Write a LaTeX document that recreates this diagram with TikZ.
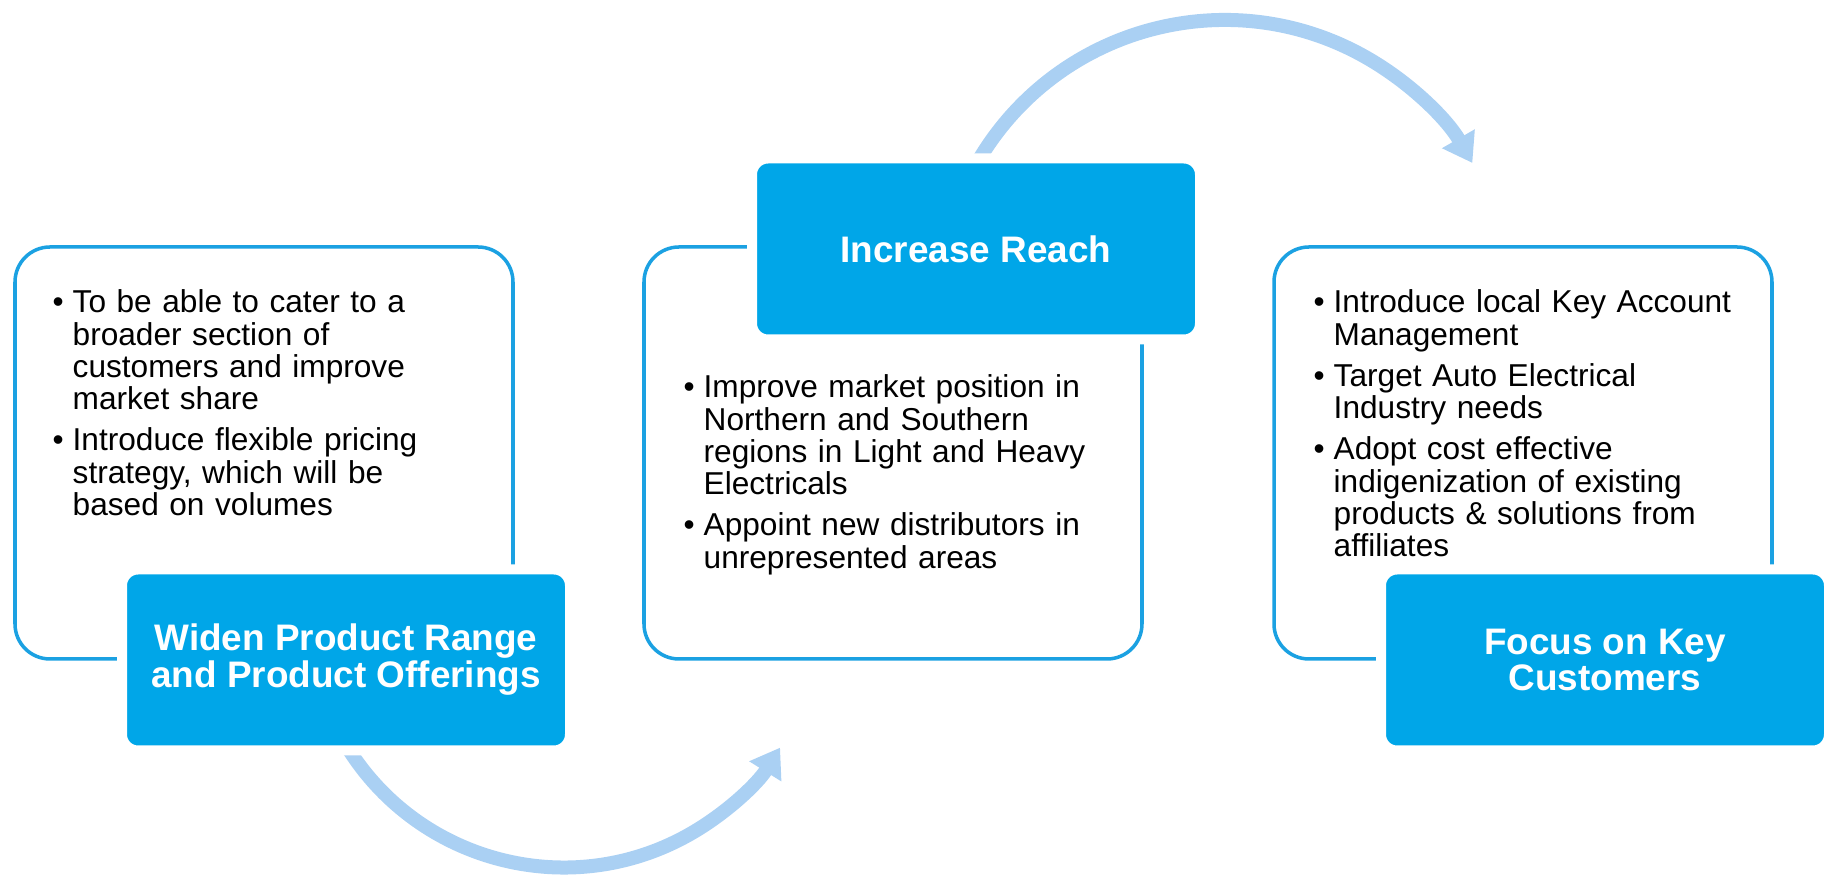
\documentclass[tikz,border=0pt]{standalone}
\usepackage{fontspec}
\setmainfont{Liberation Sans}
\usetikzlibrary{arrows.meta}
\definecolor{boxblue}{RGB}{0,166,232}
\definecolor{lineblue}{RGB}{27,161,226}
\definecolor{arcblue}{RGB}{170,208,243}
\newcommand{\itm}[1]{\par\noindent\makebox[2mm][l]{•}\parbox[t]{43mm}{\raggedright#1\strut}\par\prevdepth=\dp\strutbox}
\begin{document}
\begin{tikzpicture}[x=0.1mm,y=0.1mm,
  panel/.style={draw=lineblue,line width=1pt,rounded corners=3.5mm,fill=white,minimum width=49.8mm,minimum height=41.2mm,inner sep=0pt},
  head/.style={fill=boxblue,draw=white,line width=1mm,rounded corners=1.6mm,minimum width=44.8mm,minimum height=18.1mm,text=white,align=center,font=\bfseries\fontsize{10.5}{10.5}\selectfont},
  bul/.style={anchor=north west,inner sep=0pt,text width=45mm,font=\fontsize{9}{9.2}\selectfont\setlength{\parskip}{2.5pt}\setlength{\lineskiplimit}{-5pt}},
  flow/.style={arcblue,line width=1.4mm,-{Triangle[width=3.6mm,length=2.8mm]}}]
\useasboundingbox (0,0) rectangle (1830,880);
% arcs between the steps
\coordinate (a1) at (343,140);
\coordinate (a2) at (977,717);
\draw[flow] (a1) arc[start angle=210,end angle=328,radius=255];
\draw[flow] (a2) arc[start angle=150,end angle=30,radius=286];
\foreach \n/\x in {1/264,2/893,3/1523}{\node[panel] (p\n) at (\x,427) {};}
\node[bul] (t1) at (52,609) {\itm{To be able to cater to a\\broader section of\\customers and improve\\market share}\itm{Introduce flexible pricing\\strategy, which will be\\based on volumes}};
\node[bul] (t2) at (683,524) {\itm{Improve market position in\\Northern and Southern\\regions in Light and Heavy\\Electricals}\itm{Appoint new distributors in\\unrepresented areas}};
\node[bul] (t3) at (1313,609) {\itm{Introduce local Key Account\\Management}\itm{Target Auto Electrical\\Industry needs}\itm{Adopt cost effective\\indigenization of existing\\products \& solutions from\\affiliates}};
\node[head] (h1) at (346,220) {Widen Product Range\\and Product Offerings};
\node[head] (h2) at (976,631) {Increase Reach};
\node[head] (h3) at (1605,220) {Focus on Key\\Customers};
\end{tikzpicture}
\end{document}
